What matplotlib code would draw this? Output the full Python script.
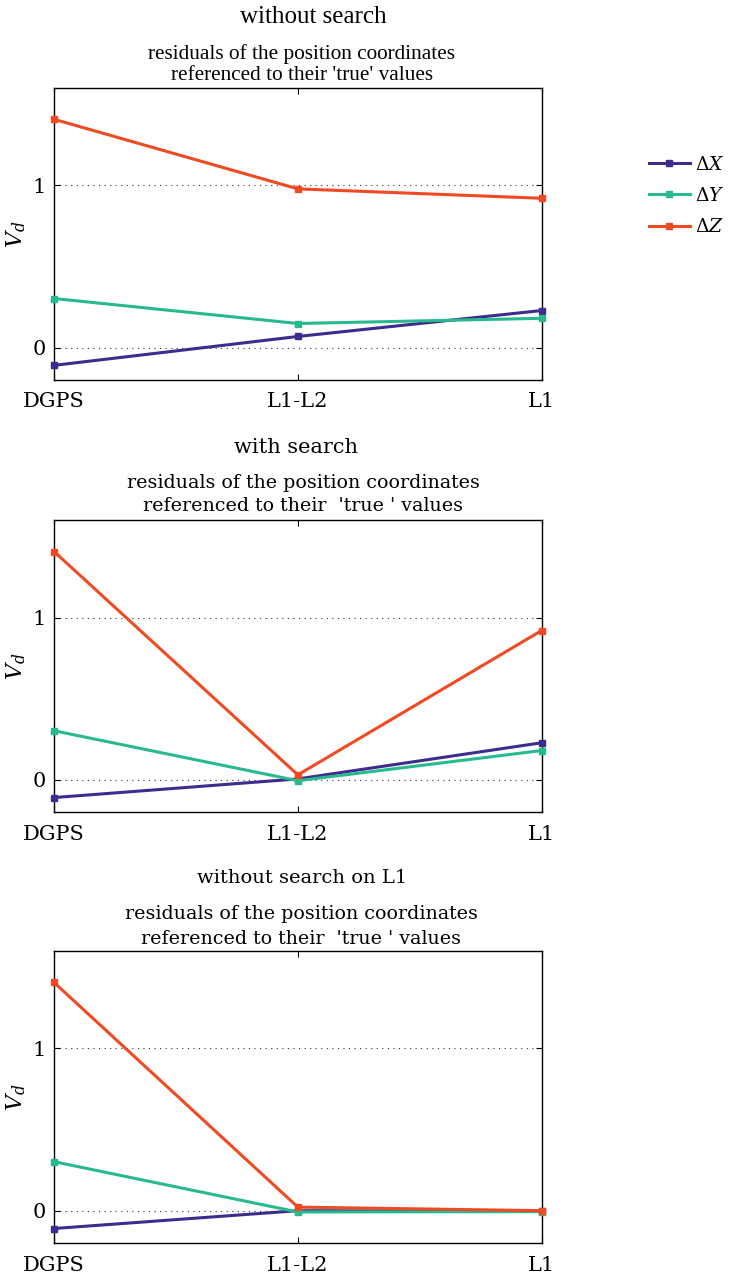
import matplotlib
matplotlib.use('Agg')
import matplotlib.pyplot as plt

categories = ['DGPS', 'L1-L2', 'L1']
series_names = [r'$\Delta X$', r'$\Delta Y$', r'$\Delta Z$']
colors = ['#3d2c8d', '#28b98f', '#f04a22']

# values
no_search_dx = [-0.11, 0.068, 0.228]
no_search_dy = [0.302, 0.148, 0.18]
no_search_dz = [1.407, 0.978, 0.92]

search_dx = [-0.11, 0.005, 0.228]
search_dy = [0.302, -0.006, 0.18]
search_dz = [1.407, 0.03, 0.92]

no_search_l1_dx = [-0.11, 0.0, -0.004]
no_search_l1_dy = [0.302, -0.008, -0.006]
no_search_l1_dz = [1.407, 0.022, 0.0]

titles = ['without search', 'with search', 'without search on L1']
subtitles = ["residuals of the position coordinates\nreferenced to their 'true' values",
             "residuals of the position coordinates\nreferenced to their  'true ' values",
             "residuals of the position coordinates\nreferenced to their  'true ' values"]

panels = [
    (no_search_dx, no_search_dy, no_search_dz),
    (search_dx, search_dy, search_dz),
    (no_search_l1_dx, no_search_l1_dy, no_search_l1_dz),
]

plt.rcParams['mathtext.fontset'] = 'dejavuserif'
plt.rcParams['font.family'] = 'DejaVu Serif'

W, H = 730, 1275
fig = plt.figure(figsize=(W / 100, H / 100), dpi=100)

axes_bottoms = [0.702, 0.363, 0.025]
title_fonts = ['Liberation Serif', 'DejaVu Serif', 'DejaVu Serif']
title_sizes = [18, 15, 14]
sub_sizes = [15.3, 13.7, 13.7]
sub_spacing = [1.2, 1.4, 1.45]
title_xy_px = [(313, 17), (296, 448), (302, 878)]
sub_xy_px = [(302, 64.5), (303, 494.5), (301, 926.5)]

x = list(range(len(categories)))

for i, (vals, bottom) in enumerate(zip(panels, axes_bottoms)):
    ax = fig.add_axes([0.074, bottom, 0.668, 0.229])
    lines = []
    for v, c, name in zip(vals, colors, series_names):
        ln, = ax.plot(x, v, color=c, linewidth=2.2, marker='s', markersize=4.5,
                      label=name, clip_on=False, zorder=3)
        lines.append(ln)
    ax.set_xlim(0, 2)
    ax.set_ylim(-0.2, 1.6)
    ax.set_xticks(x)
    ax.set_xticklabels(categories, fontsize=15)
    ax.set_yticks([0, 1])
    ax.set_yticklabels(['0', '1'], fontsize=15)
    ax.tick_params(direction='in', top=True, right=True, length=4, width=0.8, pad=9)
    ax.tick_params(axis='y', pad=6)
    ax.yaxis.grid(True, color='#333333', linestyle=(0, (1, 4)), linewidth=0.8)
    for s in ax.spines.values():
        s.set_linewidth(1.0)
    ax.set_ylabel(r'$V_d$', fontsize=16, labelpad=3)

    # two-level title above the panel
    tx, ty = title_xy_px[i]
    sx, sy = sub_xy_px[i]
    fig.text(tx / W, 1 - ty / H, titles[i], ha='center', va='center',
             fontsize=title_sizes[i], family=title_fonts[i])
    fig.text(sx / W, 1 - sy / H, subtitles[i], ha='center', va='center',
             fontsize=sub_sizes[i], family=title_fonts[i], linespacing=sub_spacing[i])

    if i == 0:
        fig.legend(handles=lines, loc='center left', bbox_to_anchor=(0.868, 1 - 196 / H),
                   frameon=False, fontsize=13.5, handlelength=2.2, labelspacing=0.72,
                   handletextpad=0.25, borderpad=0.3)

fig.savefig('out.png', dpi=100)
